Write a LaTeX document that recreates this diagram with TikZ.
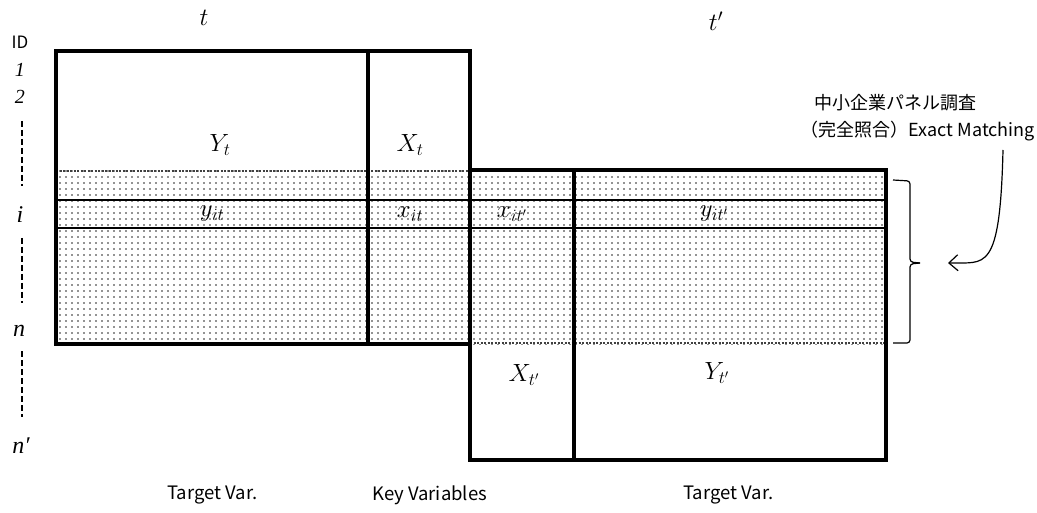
\documentclass[tikz,border=0pt]{standalone}
\usepackage{fontspec}
\setmainfont{Liberation Serif}
\newfontfamily\jfont{Noto Sans CJK JP}
\usetikzlibrary{patterns.meta,arrows.meta}
\tikzset{
  thickline/.style={line width=3.4pt},
  midline/.style={line width=2.5pt},
  dotfill/.style={pattern={Dots[distance=6pt,radius=0.85pt]},pattern color=black!85},
  dashedge/.style={line width=1.2pt,dash pattern=on 2pt off 1.5pt,black!75},
  idlabel/.style={font=\fontsize{20}{20}\selectfont\itshape},
  mlabel/.style={font=\fontsize{23}{23}\selectfont},
  slabel/.style={font=\jfont\fontsize{18.5}{18.5}\selectfont,anchor=west,inner sep=0pt},
  jlabel/.style={font=\jfont\fontsize{18}{18}\selectfont,anchor=east,inner sep=0pt},
  idsep/.style={line width=1.3pt,dash pattern=on 6pt off 3pt},
}
\begin{document}
\begin{tikzpicture}[x=1pt,y=-1pt]
\useasboundingbox (0,0) rectangle (1037,513);
% dotted band
\fill[dotfill] (56,170) rectangle (886,344);
\draw[dashedge] (56,171) -- (470,171);
\draw[dashedge] (470,343) -- (886,343);
% rows i
\draw[midline] (56,200) -- (886,200);
\draw[midline] (56,228) -- (886,228);
% left block
\draw[thickline] (56,51) rectangle (470,344);
\draw[thickline] (368,51) -- (368,344);
% right block
\draw[thickline] (470,170) rectangle (886,460);
\draw[thickline] (574,170) -- (574,460);
% column headers
\node[mlabel] (t) at (204,18) {$t$};
\node[mlabel] (tp) at (716,21) {$t'$};
% ID column
\node[font=\jfont\fontsize{17}{17}\selectfont] (id) at (20,42) {ID};
\node[idlabel] (r1) at (20,70) {1};
\node[idlabel] (r2) at (20,97) {2};
\node[idlabel,font=\fontsize{24}{24}\selectfont\itshape] (ri) at (20,215) {i};
\node[idlabel,font=\fontsize{24}{24}\selectfont\itshape] (rn) at (19,331) {n};
\node[idlabel,font=\fontsize{24}{24}\selectfont\itshape] (rnp) at (21,446) {n′};
\draw[idsep] (22,121) -- (22,186);
\draw[idsep] (22,238) -- (22,303);
\draw[idsep] (22,351) -- (22,417);
% cell labels
\node[mlabel] (Yt) at (220,145) {$Y_t$};
\node[mlabel] (Xt) at (410,145) {$X_t$};
\node[mlabel] (yit) at (212,214) {$y_{it}$};
\node[mlabel] (xit) at (410,214) {$x_{it}$};
\node[mlabel] (xitp) at (512,214) {$x_{it'}$};
\node[mlabel] (yitp) at (714,214) {$y_{it'}$};
\node[mlabel] (Xtp) at (524,375) {$X_{t'}$};
\node[mlabel] (Ytp) at (717,373) {$Y_{t'}$};
% bottom labels
\node[slabel] (b1) at (167,495) {Target Var.};
\node[slabel] (b2) at (372,495) {Key Variables};
\node[slabel] (b3) at (683,495) {Target Var.};
% annotation
\node[jlabel] (ja) at (977,103) {中小企業パネル調査};
\node[jlabel] (jb) at (1035,131) {（完全照合）Exact Matching};
% brace
\draw[line width=1.2pt,rounded corners=3pt] (893,180) -- (910,181) -- (910,262) -- (920,263);
\draw[line width=1.2pt,rounded corners=3pt] (920,263) -- (910,264) -- (910,343) -- (893,343);
\coordinate (brace) at (920,263);
% arrow
\coordinate (as) at (1003,150);
\coordinate (ae) at (948,263);
\draw[line width=1.2pt,-{Straight Barb[length=9pt,width=16pt]}] (as) .. controls (1000,275) and (985,262) .. (ae);
\end{tikzpicture}
\end{document}
